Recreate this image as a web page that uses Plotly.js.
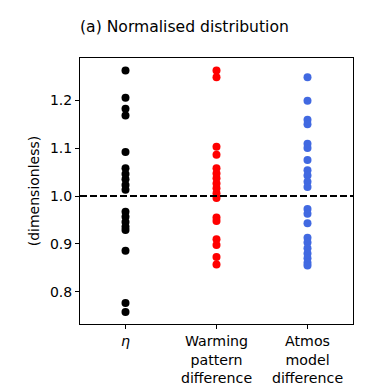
<!DOCTYPE html>
<html>
<head>
<meta charset="utf-8">
<script src="https://cdn.plot.ly/plotly-3.0.1.min.js"></script>
<style>html,body{margin:0;padding:0;background:#fff;}#chart{width:374px;height:388px;}</style>
</head>
<body>
<div id="chart"></div>
<script>
const categories = ["η", "Warming pattern difference", "Atmos model difference"];
const tickLabels = ["<i>η</i>", "Warming<br>pattern<br>difference", "Atmos<br>model<br>difference"];
const etaValues = [1.262, 1.205, 1.182, 1.168, 1.092, 1.058, 1.046, 1.035, 1.023, 1.013, 0.967, 0.957, 0.946, 0.936, 0.929, 0.886, 0.777, 0.758];
const warmingValues = [1.262, 1.248, 1.103, 1.086, 1.058, 1.047, 1.037, 1.026, 1.016, 1.006, 0.996, 0.955, 0.948, 0.910, 0.898, 0.873, 0.857];
const atmosValues = [1.248, 1.199, 1.159, 1.150, 1.109, 1.100, 1.075, 1.054, 1.043, 1.030, 1.019, 0.973, 0.963, 0.943, 0.913, 0.903, 0.891, 0.880, 0.870, 0.861, 0.855];
const referenceValue = 1.0;

const series = [
  {vals: etaValues, color: "#000000", idx: 0},
  {vals: warmingValues, color: "#ff0000", idx: 1},
  {vals: atmosValues, color: "#4169e1", idx: 2}
];

const traces = series.map(s => ({
  type: "scatter",
  mode: "markers",
  x: s.vals.map(() => s.idx),
  y: s.vals,
  marker: {color: s.color, size: 8, line: {width: 0}},
  hoverinfo: "y",
  showlegend: false
}));

const font = "DejaVu Sans, sans-serif";
const layout = {
  width: 374, height: 388,
  margin: {l: 80, r: 21, t: 58, b: 64},
  paper_bgcolor: "#fff", plot_bgcolor: "#fff",
  font: {family: font, size: 14, color: "#000"},
  title: {text: "(a) Normalised distribution", x: 80/374, xanchor: "left", xref: "container", y: 1 - 27/388, yanchor: "middle", yref: "container", font: {family: font, size: 15.6, color: "#000"}},
  xaxis: {
    range: [-0.5, 2.5], tickvals: [0, 1, 2], ticktext: tickLabels,
    showgrid: false, zeroline: false, showline: true, mirror: true, linecolor: "#000", linewidth: 1,
    ticks: "outside", ticklen: 4, tickcolor: "#000", tickfont: {family: font, size: 14.2}
  },
  yaxis: {
    range: [0.733, 1.288], tickvals: [0.8, 0.9, 1.0, 1.1, 1.2], ticktext: ["0.8", "0.9", "1.0", "1.1", "1.2"],
    showgrid: false, zeroline: false, showline: true, mirror: true, linecolor: "#000", linewidth: 1,
    ticks: "outside", ticklen: 4, tickcolor: "#000", tickfont: {family: font, size: 14},
    title: {text: "(dimensionless)", font: {family: font, size: 14}, standoff: 7}
  },
  shapes: [{type: "line", xref: "paper", x0: 0, x1: 1, yref: "y", y0: referenceValue, y1: referenceValue,
    line: {color: "#000", width: 2, dash: "7px,3px"}}]
};
Plotly.newPlot("chart", traces, layout, {displayModeBar: false, staticPlot: true});
</script>
</body>
</html>
